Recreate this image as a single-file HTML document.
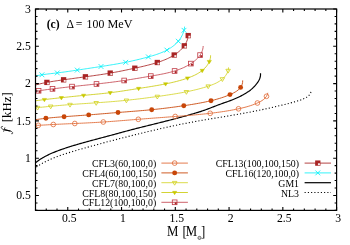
<!DOCTYPE html>
<html><head><meta charset="utf-8"><title>f-M chart</title>
<style>html,body{margin:0;padding:0;background:#fff;}body{width:350px;height:245px;overflow:hidden;font-family:"Liberation Serif",serif;}</style></head>
<body>
<svg width="350" height="245" viewBox="0 0 350 245" style="display:block;will-change:transform;font-family:'Liberation Serif',serif">
<defs><filter id="gs" x="-5%" y="-5%" width="110%" height="110%" color-interpolation-filters="sRGB"><feColorMatrix type="saturate" values="0"/></filter></defs>
<rect x="0" y="0" width="350" height="245" fill="#fff"/>
<g fill="none" stroke-linecap="butt" stroke-linejoin="round">
<path d="M35.50 167.60 L36.70 166.77 L37.91 165.97 L39.14 165.19 L40.38 164.44 L41.63 163.71 L42.89 163.01 L44.17 162.33 L45.46 161.67 L46.76 161.03 L48.07 160.41 L49.39 159.81 L50.72 159.22 L52.05 158.65 L53.39 158.10 L54.74 157.56 L56.09 157.04 L57.45 156.53 L58.81 156.03 L60.18 155.54 L61.55 155.06 L62.92 154.60 L64.30 154.14 L65.68 153.68 L67.06 153.24 L68.44 152.81 L69.82 152.38 L71.21 151.95 L72.60 151.53 L73.99 151.12 L75.38 150.71 L76.77 150.30 L78.16 149.90 L79.55 149.50 L80.95 149.10 L82.34 148.70 L83.73 148.31 L85.13 147.91 L86.52 147.52 L87.92 147.13 L89.32 146.74 L90.71 146.35 L92.11 145.97 L93.51 145.58 L94.90 145.20 L96.30 144.82 L97.70 144.44 L99.10 144.06 L100.50 143.68 L101.90 143.31 L103.30 142.93 L104.70 142.56 L106.10 142.19 L107.50 141.82 L108.91 141.46 L110.31 141.09 L111.71 140.72 L113.11 140.36 L114.52 140.00 L115.92 139.64 L117.32 139.27 L118.73 138.91 L120.13 138.55 L121.54 138.19 L122.94 137.83 L124.34 137.47 L125.75 137.12 L127.15 136.76 L128.56 136.40 L129.96 136.05 L131.37 135.70 L132.78 135.34 L134.18 134.99 L135.59 134.64 L136.99 134.29 L138.40 133.94 L139.81 133.59 L141.22 133.25 L142.62 132.90 L144.03 132.56 L145.44 132.22 L146.85 131.88 L148.26 131.54 L149.67 131.20 L151.08 130.87 L152.49 130.53 L153.90 130.20 L155.31 129.87 L156.72 129.54 L158.13 129.21 L159.55 128.89 L160.96 128.57 L162.37 128.25 L163.79 127.93 L165.20 127.61 L166.62 127.30 L168.03 126.99 L169.45 126.68 L170.87 126.37 L172.28 126.07 L173.70 125.77 L175.12 125.47 L176.54 125.17 L177.96 124.88 L179.38 124.58 L180.80 124.30 L182.22 124.01 L183.64 123.73 L185.06 123.45 L186.49 123.17 L187.91 122.90 L189.33 122.63 L190.76 122.36 L192.18 122.09 L193.61 121.83 L195.04 121.57 L196.46 121.32 L197.89 121.06 L199.32 120.81 L200.75 120.56 L202.18 120.31 L203.60 120.07 L205.03 119.83 L206.46 119.58 L207.89 119.34 L209.32 119.10 L210.75 118.86 L212.18 118.63 L213.61 118.39 L215.04 118.15 L216.48 117.92 L217.91 117.68 L219.34 117.44 L220.77 117.21 L222.20 116.97 L223.63 116.73 L225.06 116.50 L226.49 116.26 L227.92 116.02 L229.35 115.78 L230.78 115.54 L232.21 115.30 L233.63 115.06 L235.06 114.81 L236.49 114.56 L237.92 114.31 L239.34 114.06 L240.77 113.81 L242.20 113.55 L243.62 113.29 L245.04 113.03 L246.47 112.77 L247.89 112.50 L249.31 112.23 L250.74 111.96 L252.16 111.68 L253.58 111.40 L255.00 111.12 L256.41 110.83 L257.83 110.54 L259.25 110.24 L260.67 109.95 L262.09 109.65 L263.50 109.34 L264.92 109.04 L266.33 108.73 L267.75 108.42 L269.17 108.10 L270.58 107.78 L272.00 107.46 L273.41 107.14 L274.83 106.81 L276.25 106.48 L277.66 106.15 L279.08 105.81 L280.49 105.47 L281.91 105.13 L283.32 104.78 L284.73 104.43 L286.14 104.08 L287.54 103.72 L288.95 103.36 L290.35 103.00 L291.74 102.63 L293.13 102.25 L294.52 101.87 L295.91 101.49 L297.28 101.09 L298.66 100.68 L300.02 100.23 L301.38 99.75 L302.73 99.20 L304.07 98.60 L305.40 97.91 L306.71 97.14 L307.96 96.26 L309.08 95.27 L310.00 94.16 L310.66 92.91 L311.00 91.50" stroke="#000" stroke-width="1.1" stroke-dasharray="1.1 2.15" stroke-dashoffset="-1.1"/>
<path d="M35.50 162.70 L36.49 161.93 L37.50 161.18 L38.52 160.46 L39.55 159.76 L40.60 159.08 L41.66 158.42 L42.73 157.78 L43.81 157.16 L44.90 156.56 L46.00 155.98 L47.11 155.42 L48.23 154.87 L49.35 154.33 L50.49 153.81 L51.63 153.31 L52.77 152.82 L53.93 152.34 L55.08 151.87 L56.25 151.41 L57.41 150.96 L58.58 150.53 L59.76 150.10 L60.93 149.67 L62.11 149.26 L63.29 148.85 L64.47 148.45 L65.65 148.05 L66.84 147.66 L68.03 147.28 L69.21 146.90 L70.40 146.53 L71.59 146.16 L72.79 145.79 L73.98 145.43 L75.17 145.07 L76.37 144.72 L77.57 144.37 L78.76 144.03 L79.96 143.68 L81.16 143.34 L82.36 143.00 L83.56 142.66 L84.76 142.33 L85.96 142.00 L87.16 141.67 L88.37 141.34 L89.57 141.01 L90.77 140.68 L91.98 140.36 L93.18 140.03 L94.39 139.71 L95.59 139.39 L96.80 139.06 L98.00 138.74 L99.21 138.42 L100.41 138.10 L101.62 137.78 L102.82 137.46 L104.03 137.14 L105.23 136.83 L106.44 136.51 L107.64 136.19 L108.85 135.86 L110.05 135.54 L111.26 135.22 L112.46 134.90 L113.66 134.58 L114.87 134.25 L116.07 133.92 L117.27 133.60 L118.48 133.27 L119.68 132.94 L120.88 132.61 L122.08 132.28 L123.29 131.95 L124.49 131.62 L125.69 131.29 L126.90 130.97 L128.10 130.64 L129.31 130.32 L130.51 130.00 L131.72 129.69 L132.92 129.37 L134.13 129.06 L135.34 128.75 L136.55 128.44 L137.75 128.13 L138.96 127.83 L140.17 127.52 L141.38 127.22 L142.59 126.91 L143.80 126.61 L145.01 126.31 L146.22 126.01 L147.43 125.71 L148.64 125.41 L149.85 125.11 L151.06 124.81 L152.27 124.51 L153.48 124.21 L154.69 123.91 L155.90 123.62 L157.11 123.32 L158.32 123.02 L159.53 122.72 L160.74 122.41 L161.95 122.11 L163.16 121.81 L164.37 121.51 L165.58 121.20 L166.79 120.90 L168.00 120.59 L169.21 120.28 L170.41 119.97 L171.62 119.66 L172.83 119.35 L174.04 119.04 L175.24 118.72 L176.45 118.40 L177.65 118.09 L178.86 117.77 L180.06 117.44 L181.27 117.12 L182.47 116.79 L183.67 116.47 L184.88 116.13 L186.08 115.80 L187.28 115.47 L188.48 115.13 L189.68 114.79 L190.88 114.45 L192.08 114.10 L193.28 113.75 L194.47 113.40 L195.67 113.04 L196.86 112.68 L198.05 112.31 L199.24 111.94 L200.43 111.56 L201.61 111.17 L202.80 110.77 L203.97 110.36 L205.15 109.95 L206.32 109.52 L207.49 109.09 L208.66 108.65 L209.82 108.20 L210.98 107.75 L212.15 107.30 L213.31 106.85 L214.47 106.40 L215.63 105.95 L216.80 105.50 L217.96 105.06 L219.13 104.62 L220.30 104.19 L221.47 103.77 L222.65 103.35 L223.83 102.94 L225.00 102.53 L226.18 102.12 L227.36 101.70 L228.53 101.28 L229.70 100.85 L230.87 100.42 L232.04 99.97 L233.20 99.51 L234.35 99.04 L235.50 98.55 L236.64 98.05 L237.77 97.53 L238.89 96.99 L240.01 96.44 L241.12 95.87 L242.22 95.28 L243.31 94.68 L244.40 94.06 L245.48 93.42 L246.54 92.77 L247.59 92.09 L248.63 91.39 L249.64 90.66 L250.63 89.90 L251.58 89.11 L252.51 88.28 L253.41 87.42 L254.28 86.52 L255.13 85.60 L255.94 84.65 L256.73 83.67 L257.48 82.66 L258.18 81.62 L258.81 80.55 L259.37 79.45 L259.83 78.30 L260.19 77.12 L260.42 75.89 L260.53 74.62 L260.50 73.30" stroke="#000" stroke-width="1.2"/>
<path d="M35.50 125.40 L37.50 125.33 L39.51 125.25 L41.51 125.15 L43.51 125.05 L45.51 124.94 L47.52 124.83 L49.52 124.71 L51.52 124.60 L53.52 124.49 L55.52 124.38 L57.53 124.28 L59.53 124.18 L61.53 124.09 L63.54 123.99 L65.54 123.90 L67.54 123.82 L69.54 123.73 L71.55 123.64 L73.55 123.55 L75.55 123.47 L77.56 123.38 L79.56 123.29 L81.56 123.19 L83.57 123.10 L85.57 123.00 L87.57 122.90 L89.57 122.80 L91.58 122.69 L93.58 122.58 L95.58 122.47 L97.58 122.36 L99.58 122.24 L101.58 122.11 L103.59 121.98 L105.59 121.85 L107.59 121.71 L109.59 121.57 L111.59 121.42 L113.58 121.27 L115.58 121.12 L117.58 120.96 L119.58 120.81 L121.58 120.65 L123.58 120.49 L125.58 120.33 L127.58 120.17 L129.57 120.00 L131.57 119.84 L133.57 119.68 L135.57 119.52 L137.57 119.36 L139.57 119.20 L141.57 119.04 L143.57 118.89 L145.57 118.73 L147.57 118.58 L149.57 118.43 L151.57 118.28 L153.57 118.12 L155.57 117.97 L157.57 117.82 L159.57 117.68 L161.57 117.53 L163.57 117.38 L165.56 117.23 L167.56 117.08 L169.56 116.93 L171.56 116.78 L173.56 116.62 L175.56 116.47 L177.55 116.32 L179.55 116.16 L181.55 116.01 L183.54 115.85 L185.54 115.69 L187.54 115.52 L189.53 115.36 L191.53 115.18 L193.53 115.01 L195.52 114.82 L197.52 114.64 L199.51 114.45 L201.51 114.25 L203.51 114.04 L205.51 113.83 L207.50 113.61 L209.50 113.38 L211.50 113.15 L213.50 112.90 L215.49 112.65 L217.49 112.38 L219.48 112.11 L221.48 111.82 L223.47 111.53 L225.45 111.22 L227.43 110.89 L229.41 110.56 L231.38 110.21 L233.34 109.84 L235.30 109.46 L237.25 109.06 L239.19 108.65 L241.13 108.22 L243.06 107.76 L244.98 107.28 L246.90 106.75 L248.81 106.19 L250.72 105.58 L252.63 104.92 L254.54 104.20 L256.44 103.42 L258.35 102.57 L260.23 101.63 L262.02 100.58 L263.68 99.40 L265.14 98.06 L266.36 96.53 L267.26 94.78 L267.80 92.80" stroke="#e06a36" stroke-width="0.88"/>
<path d="M35.50 119.70 L37.30 119.42 L39.10 119.16 L40.91 118.91 L42.71 118.68 L44.52 118.46 L46.33 118.25 L48.14 118.06 L49.95 117.88 L51.77 117.70 L53.58 117.54 L55.39 117.38 L57.21 117.23 L59.03 117.08 L60.84 116.94 L62.66 116.81 L64.47 116.67 L66.29 116.54 L68.11 116.41 L69.92 116.28 L71.74 116.15 L73.56 116.01 L75.37 115.88 L77.19 115.75 L79.01 115.62 L80.82 115.49 L82.64 115.36 L84.46 115.22 L86.27 115.09 L88.09 114.95 L89.90 114.81 L91.72 114.66 L93.53 114.52 L95.35 114.37 L97.16 114.22 L98.98 114.07 L100.79 113.92 L102.61 113.77 L104.42 113.62 L106.24 113.47 L108.05 113.32 L109.87 113.17 L111.68 113.01 L113.50 112.87 L115.31 112.72 L117.13 112.57 L118.95 112.42 L120.76 112.28 L122.58 112.14 L124.39 112.00 L126.21 111.86 L128.03 111.72 L129.84 111.57 L131.66 111.43 L133.48 111.29 L135.29 111.14 L137.11 111.00 L138.92 110.85 L140.74 110.70 L142.55 110.54 L144.37 110.38 L146.18 110.22 L147.99 110.06 L149.80 109.88 L151.61 109.71 L153.42 109.53 L155.23 109.34 L157.04 109.15 L158.85 108.95 L160.66 108.75 L162.47 108.54 L164.27 108.32 L166.08 108.10 L167.89 107.88 L169.69 107.65 L171.50 107.42 L173.30 107.18 L175.11 106.94 L176.92 106.69 L178.72 106.43 L180.53 106.18 L182.34 105.92 L184.15 105.65 L185.95 105.38 L187.76 105.10 L189.57 104.82 L191.38 104.53 L193.18 104.23 L194.98 103.93 L196.78 103.61 L198.58 103.29 L200.37 102.96 L202.16 102.61 L203.94 102.26 L205.72 101.89 L207.49 101.51 L209.25 101.11 L211.01 100.70 L212.76 100.27 L214.50 99.83 L216.24 99.36 L217.97 98.87 L219.70 98.36 L221.43 97.81 L223.16 97.24 L224.89 96.63 L226.62 95.98 L228.35 95.29 L230.08 94.56 L231.82 93.79 L233.53 92.95 L235.18 92.04 L236.75 91.05 L238.19 89.95 L239.49 88.73 L240.61 87.38 L241.52 85.89 L242.20 84.24 L242.60 82.41 L242.70 80.40" stroke="#c84608" stroke-width="0.88"/>
<path d="M35.50 107.80 L37.20 107.64 L38.91 107.47 L40.61 107.31 L42.31 107.14 L44.01 106.97 L45.72 106.79 L47.42 106.62 L49.12 106.46 L50.83 106.29 L52.53 106.12 L54.23 105.96 L55.94 105.80 L57.64 105.64 L59.34 105.49 L61.05 105.34 L62.75 105.19 L64.46 105.05 L66.16 104.90 L67.87 104.77 L69.58 104.63 L71.28 104.50 L72.99 104.37 L74.69 104.25 L76.40 104.13 L78.11 104.01 L79.82 103.89 L81.52 103.78 L83.23 103.66 L84.94 103.55 L86.65 103.44 L88.35 103.32 L90.06 103.21 L91.77 103.10 L93.48 102.98 L95.18 102.87 L96.89 102.75 L98.60 102.63 L100.30 102.51 L102.01 102.39 L103.72 102.27 L105.43 102.14 L107.13 102.01 L108.84 101.88 L110.54 101.74 L112.25 101.60 L113.96 101.46 L115.66 101.31 L117.36 101.16 L119.07 101.01 L120.77 100.85 L122.48 100.69 L124.18 100.52 L125.88 100.35 L127.58 100.18 L129.28 100.00 L130.98 99.81 L132.68 99.62 L134.38 99.43 L136.08 99.23 L137.78 99.03 L139.48 98.83 L141.18 98.62 L142.88 98.41 L144.58 98.19 L146.27 97.98 L147.97 97.76 L149.67 97.53 L151.36 97.31 L153.06 97.08 L154.76 96.85 L156.45 96.62 L158.15 96.38 L159.85 96.15 L161.54 95.91 L163.24 95.67 L164.93 95.42 L166.63 95.17 L168.32 94.92 L170.01 94.66 L171.71 94.40 L173.40 94.13 L175.09 93.85 L176.77 93.57 L178.46 93.28 L180.14 92.98 L181.83 92.68 L183.51 92.36 L185.18 92.04 L186.86 91.71 L188.53 91.36 L190.20 91.01 L191.87 90.64 L193.54 90.26 L195.20 89.87 L196.86 89.46 L198.52 89.04 L200.17 88.60 L201.82 88.15 L203.47 87.67 L205.12 87.18 L206.76 86.67 L208.40 86.13 L210.03 85.58 L211.66 84.99 L213.26 84.36 L214.85 83.68 L216.40 82.94 L217.91 82.14 L219.38 81.25 L220.80 80.28 L222.16 79.21 L223.45 78.03 L224.66 76.76 L225.75 75.38 L226.69 73.93 L227.47 72.39 L228.05 70.79 L228.40 69.12 L228.50 67.40" stroke="#d2d21e" stroke-width="0.8"/>
<path d="M35.50 100.80 L37.07 100.57 L38.63 100.35 L40.20 100.14 L41.77 99.93 L43.34 99.73 L44.91 99.54 L46.48 99.35 L48.05 99.16 L49.62 98.98 L51.19 98.80 L52.77 98.63 L54.34 98.46 L55.91 98.29 L57.48 98.12 L59.06 97.95 L60.63 97.78 L62.20 97.61 L63.78 97.45 L65.35 97.28 L66.92 97.11 L68.50 96.95 L70.07 96.78 L71.64 96.61 L73.22 96.45 L74.79 96.29 L76.36 96.12 L77.94 95.96 L79.51 95.80 L81.09 95.65 L82.66 95.49 L84.23 95.34 L85.81 95.19 L87.38 95.04 L88.96 94.89 L90.54 94.74 L92.11 94.59 L93.69 94.44 L95.26 94.29 L96.84 94.14 L98.41 93.99 L99.99 93.83 L101.56 93.67 L103.13 93.50 L104.71 93.33 L106.28 93.16 L107.85 92.98 L109.42 92.79 L110.99 92.60 L112.56 92.40 L114.13 92.20 L115.69 91.99 L117.26 91.77 L118.83 91.55 L120.39 91.32 L121.96 91.09 L123.52 90.86 L125.09 90.62 L126.65 90.38 L128.21 90.14 L129.78 89.89 L131.34 89.65 L132.90 89.40 L134.47 89.15 L136.03 88.91 L137.59 88.66 L139.16 88.41 L140.72 88.17 L142.28 87.92 L143.85 87.67 L145.41 87.43 L146.97 87.18 L148.54 86.93 L150.10 86.68 L151.66 86.42 L153.22 86.16 L154.78 85.90 L156.34 85.63 L157.90 85.35 L159.45 85.07 L161.01 84.79 L162.56 84.50 L164.12 84.19 L165.67 83.89 L167.22 83.57 L168.76 83.24 L170.31 82.91 L171.85 82.56 L173.39 82.20 L174.93 81.82 L176.46 81.44 L177.99 81.03 L179.52 80.61 L181.04 80.18 L182.56 79.72 L184.07 79.25 L185.58 78.76 L187.08 78.25 L188.58 77.71 L190.07 77.15 L191.55 76.56 L193.01 75.94 L194.46 75.28 L195.88 74.57 L197.27 73.82 L198.64 73.01 L199.97 72.15 L201.27 71.22 L202.53 70.23 L203.74 69.17 L204.89 68.05 L205.97 66.86 L206.97 65.61 L207.87 64.30 L208.67 62.93 L209.34 61.50 L209.88 60.03 L210.28 58.50 L210.53 56.92 L210.60 55.30" stroke="#c8c800" stroke-width="0.8"/>
<path d="M35.50 91.30 L37.00 91.05 L38.50 90.82 L40.00 90.59 L41.50 90.36 L43.00 90.15 L44.51 89.94 L46.01 89.74 L47.52 89.54 L49.02 89.34 L50.53 89.15 L52.04 88.96 L53.54 88.77 L55.05 88.58 L56.56 88.40 L58.07 88.21 L59.57 88.03 L61.08 87.85 L62.59 87.67 L64.10 87.50 L65.61 87.32 L67.12 87.15 L68.62 86.98 L70.13 86.81 L71.64 86.64 L73.15 86.47 L74.66 86.31 L76.17 86.15 L77.68 85.99 L79.19 85.83 L80.70 85.67 L82.21 85.51 L83.72 85.35 L85.23 85.20 L86.74 85.04 L88.25 84.88 L89.76 84.72 L91.27 84.56 L92.78 84.40 L94.29 84.24 L95.80 84.08 L97.31 83.91 L98.82 83.74 L100.33 83.57 L101.84 83.40 L103.35 83.23 L104.86 83.05 L106.37 82.87 L107.88 82.69 L109.38 82.51 L110.89 82.32 L112.40 82.13 L113.90 81.93 L115.41 81.74 L116.91 81.53 L118.42 81.33 L119.92 81.12 L121.42 80.91 L122.93 80.69 L124.43 80.47 L125.93 80.24 L127.43 80.01 L128.93 79.77 L130.43 79.54 L131.92 79.29 L133.42 79.05 L134.92 78.80 L136.42 78.55 L137.91 78.30 L139.41 78.05 L140.91 77.80 L142.40 77.54 L143.90 77.28 L145.40 77.03 L146.90 76.77 L148.40 76.51 L149.90 76.25 L151.40 76.00 L152.90 75.74 L154.40 75.48 L155.90 75.22 L157.40 74.96 L158.89 74.69 L160.39 74.41 L161.88 74.12 L163.37 73.82 L164.86 73.51 L166.34 73.18 L167.82 72.84 L169.30 72.48 L170.76 72.10 L172.23 71.70 L173.68 71.28 L175.13 70.83 L176.57 70.36 L178.01 69.86 L179.43 69.34 L180.84 68.78 L182.25 68.20 L183.63 67.58 L185.01 66.92 L186.37 66.24 L187.72 65.51 L189.04 64.75 L190.35 63.95 L191.65 63.11 L192.91 62.22 L194.15 61.29 L195.34 60.32 L196.48 59.30 L197.57 58.22 L198.58 57.10 L199.52 55.92 L200.37 54.69 L201.13 53.39 L201.79 52.04 L202.33 50.63 L202.75 49.15 L203.04 47.61 L203.20 46.00" stroke="#c03a44" stroke-width="0.8"/>
<path d="M35.50 85.00 L36.86 84.63 L38.22 84.28 L39.58 83.95 L40.95 83.63 L42.32 83.33 L43.69 83.03 L45.07 82.75 L46.45 82.49 L47.82 82.23 L49.21 81.98 L50.59 81.74 L51.97 81.51 L53.36 81.29 L54.75 81.08 L56.13 80.87 L57.52 80.66 L58.91 80.46 L60.30 80.26 L61.69 80.07 L63.08 79.87 L64.48 79.68 L65.87 79.49 L67.26 79.29 L68.65 79.10 L70.04 78.91 L71.43 78.72 L72.82 78.53 L74.21 78.34 L75.60 78.14 L76.99 77.95 L78.38 77.76 L79.77 77.57 L81.16 77.38 L82.55 77.19 L83.94 77.00 L85.33 76.81 L86.72 76.62 L88.12 76.43 L89.51 76.23 L90.90 76.04 L92.29 75.85 L93.68 75.65 L95.07 75.45 L96.46 75.25 L97.85 75.05 L99.24 74.85 L100.62 74.64 L102.01 74.43 L103.40 74.21 L104.79 74.00 L106.17 73.77 L107.56 73.55 L108.94 73.32 L110.32 73.08 L111.71 72.84 L113.09 72.59 L114.47 72.34 L115.85 72.08 L117.23 71.82 L118.60 71.56 L119.98 71.29 L121.36 71.02 L122.74 70.74 L124.11 70.46 L125.49 70.18 L126.86 69.89 L128.24 69.60 L129.61 69.31 L130.98 69.02 L132.36 68.73 L133.73 68.43 L135.10 68.13 L136.47 67.84 L137.85 67.53 L139.22 67.23 L140.59 66.92 L141.96 66.61 L143.33 66.29 L144.69 65.96 L146.06 65.63 L147.42 65.29 L148.78 64.95 L150.14 64.59 L151.49 64.22 L152.84 63.84 L154.19 63.45 L155.54 63.05 L156.88 62.63 L158.22 62.20 L159.55 61.76 L160.88 61.30 L162.20 60.81 L163.51 60.31 L164.81 59.79 L166.11 59.24 L167.39 58.67 L168.66 58.07 L169.92 57.44 L171.17 56.78 L172.40 56.09 L173.61 55.37 L174.81 54.61 L175.99 53.81 L177.14 52.98 L178.27 52.10 L179.36 51.20 L180.41 50.25 L181.41 49.26 L182.37 48.23 L183.28 47.16 L184.12 46.05 L184.90 44.90 L185.62 43.70 L186.26 42.46 L186.82 41.18 L187.30 39.85 L187.70 38.48 L188.00 37.06 L188.20 35.60" stroke="#a82424" stroke-width="0.85"/>
<path d="M35.50 76.00 L36.86 75.71 L38.21 75.44 L39.58 75.19 L40.94 74.95 L42.31 74.74 L43.68 74.53 L45.05 74.34 L46.42 74.16 L47.80 73.99 L49.17 73.83 L50.55 73.67 L51.92 73.51 L53.30 73.36 L54.68 73.20 L56.05 73.05 L57.43 72.88 L58.80 72.72 L60.18 72.55 L61.55 72.37 L62.93 72.19 L64.30 72.00 L65.67 71.81 L67.04 71.62 L68.41 71.42 L69.78 71.22 L71.15 71.02 L72.52 70.82 L73.89 70.61 L75.26 70.41 L76.63 70.20 L78.00 69.99 L79.37 69.79 L80.74 69.58 L82.11 69.37 L83.48 69.17 L84.85 68.96 L86.22 68.75 L87.59 68.55 L88.95 68.34 L90.32 68.13 L91.69 67.92 L93.06 67.72 L94.43 67.51 L95.80 67.30 L97.17 67.09 L98.54 66.88 L99.91 66.67 L101.28 66.46 L102.65 66.25 L104.02 66.03 L105.39 65.82 L106.75 65.61 L108.12 65.39 L109.49 65.17 L110.86 64.95 L112.23 64.73 L113.59 64.50 L114.96 64.27 L116.32 64.03 L117.69 63.80 L119.05 63.55 L120.41 63.31 L121.77 63.06 L123.13 62.80 L124.49 62.54 L125.85 62.27 L127.21 62.00 L128.56 61.72 L129.92 61.43 L131.27 61.14 L132.62 60.84 L133.97 60.53 L135.32 60.22 L136.67 59.91 L138.01 59.59 L139.36 59.26 L140.70 58.93 L142.05 58.59 L143.39 58.24 L144.73 57.89 L146.07 57.53 L147.41 57.17 L148.75 56.80 L150.09 56.43 L151.43 56.05 L152.76 55.65 L154.09 55.25 L155.41 54.83 L156.73 54.39 L158.04 53.94 L159.35 53.46 L160.64 52.97 L161.92 52.45 L163.20 51.90 L164.46 51.32 L165.70 50.72 L166.94 50.08 L168.16 49.41 L169.36 48.70 L170.53 47.95 L171.69 47.17 L172.81 46.35 L173.91 45.49 L174.97 44.59 L176.00 43.65 L176.98 42.66 L177.93 41.64 L178.82 40.56 L179.67 39.45 L180.46 38.29 L181.20 37.10 L181.87 35.88 L182.49 34.62 L183.03 33.34 L183.50 32.03 L183.90 30.69 L184.22 29.34 L184.45 27.98 L184.60 26.60" stroke="#00f0f8" stroke-width="0.8"/>
</g>
<g><circle cx="38.30" cy="125.30" r="2.35" fill="none" stroke="#e06a36" stroke-width="0.8"/><circle cx="53.30" cy="124.50" r="2.35" fill="none" stroke="#e06a36" stroke-width="0.8"/><circle cx="74.80" cy="123.50" r="2.35" fill="none" stroke="#e06a36" stroke-width="0.8"/><circle cx="103.30" cy="122.00" r="2.35" fill="none" stroke="#e06a36" stroke-width="0.8"/><circle cx="138.30" cy="119.30" r="2.35" fill="none" stroke="#e06a36" stroke-width="0.8"/><circle cx="175.20" cy="116.50" r="2.35" fill="none" stroke="#e06a36" stroke-width="0.8"/><circle cx="210.20" cy="113.30" r="2.35" fill="none" stroke="#e06a36" stroke-width="0.8"/><circle cx="238.50" cy="108.80" r="2.35" fill="none" stroke="#e06a36" stroke-width="0.8"/><circle cx="257.40" cy="103.00" r="2.35" fill="none" stroke="#e06a36" stroke-width="0.8"/><circle cx="266.50" cy="96.30" r="2.35" fill="none" stroke="#e06a36" stroke-width="0.8"/></g>
<g><circle cx="45.90" cy="118.30" r="2.45" fill="#c84608"/><circle cx="64.10" cy="116.70" r="2.45" fill="#c84608"/><circle cx="88.70" cy="114.90" r="2.45" fill="#c84608"/><circle cx="118.00" cy="112.50" r="2.45" fill="#c84608"/><circle cx="151.70" cy="109.70" r="2.45" fill="#c84608"/><circle cx="183.80" cy="105.70" r="2.45" fill="#c84608"/><circle cx="211.00" cy="100.70" r="2.45" fill="#c84608"/><circle cx="230.00" cy="94.60" r="2.45" fill="#c84608"/><circle cx="240.60" cy="87.40" r="2.45" fill="#c84608"/></g>
<g><path d="M35.35 106.30L39.85 106.30L37.60 110.10Z" fill="none" stroke="#d2d21e" stroke-width="0.8"/><path d="M48.45 105.00L52.95 105.00L50.70 108.80Z" fill="none" stroke="#d2d21e" stroke-width="0.8"/><path d="M67.75 103.30L72.25 103.30L70.00 107.10Z" fill="none" stroke="#d2d21e" stroke-width="0.8"/><path d="M93.95 101.50L98.45 101.50L96.20 105.30Z" fill="none" stroke="#d2d21e" stroke-width="0.8"/><path d="M124.15 99.00L128.65 99.00L126.40 102.80Z" fill="none" stroke="#d2d21e" stroke-width="0.8"/><path d="M155.05 95.20L159.55 95.20L157.30 99.00Z" fill="none" stroke="#d2d21e" stroke-width="0.8"/><path d="M184.15 90.50L188.65 90.50L186.40 94.30Z" fill="none" stroke="#d2d21e" stroke-width="0.8"/><path d="M205.95 84.90L210.45 84.90L208.20 88.70Z" fill="none" stroke="#d2d21e" stroke-width="0.8"/><path d="M220.15 77.70L224.65 77.70L222.40 81.50Z" fill="none" stroke="#d2d21e" stroke-width="0.8"/><path d="M225.85 69.30L230.35 69.30L228.10 73.10Z" fill="none" stroke="#d2d21e" stroke-width="0.8"/></g>
<g><path d="M42.30 98.40L46.50 98.40L44.40 101.80Z" fill="#c8c800" stroke="#c8c800" stroke-width="0.5"/><path d="M59.30 96.50L63.50 96.50L61.40 99.90Z" fill="#c8c800" stroke="#c8c800" stroke-width="0.5"/><path d="M81.50 94.20L85.70 94.20L83.60 97.60Z" fill="#c8c800" stroke="#c8c800" stroke-width="0.5"/><path d="M108.10 91.50L112.30 91.50L110.20 94.90Z" fill="#c8c800" stroke="#c8c800" stroke-width="0.5"/><path d="M136.50 87.30L140.70 87.30L138.60 90.70Z" fill="#c8c800" stroke="#c8c800" stroke-width="0.5"/><path d="M163.50 82.70L167.70 82.70L165.60 86.10Z" fill="#c8c800" stroke="#c8c800" stroke-width="0.5"/><path d="M185.40 76.90L189.60 76.90L187.50 80.30Z" fill="#c8c800" stroke="#c8c800" stroke-width="0.5"/><path d="M200.10 69.30L204.30 69.30L202.20 72.70Z" fill="#c8c800" stroke="#c8c800" stroke-width="0.5"/><path d="M207.20 60.40L211.40 60.40L209.30 63.80Z" fill="#c8c800" stroke="#c8c800" stroke-width="0.5"/></g>
<g><rect x="36.25" y="88.45" width="4.70" height="4.70" fill="none" stroke="#c03a44" stroke-width="0.8"/><rect x="38.70" y="90.90" width="1.95" height="1.95" fill="#a82424"/><rect x="50.15" y="86.55" width="4.70" height="4.70" fill="none" stroke="#c03a44" stroke-width="0.8"/><rect x="52.60" y="89.00" width="1.95" height="1.95" fill="#a82424"/><rect x="69.65" y="84.25" width="4.70" height="4.70" fill="none" stroke="#c03a44" stroke-width="0.8"/><rect x="72.10" y="86.70" width="1.95" height="1.95" fill="#a82424"/><rect x="94.15" y="81.65" width="4.70" height="4.70" fill="none" stroke="#c03a44" stroke-width="0.8"/><rect x="96.60" y="84.10" width="1.95" height="1.95" fill="#a82424"/><rect x="121.85" y="78.15" width="4.70" height="4.70" fill="none" stroke="#c03a44" stroke-width="0.8"/><rect x="124.30" y="80.60" width="1.95" height="1.95" fill="#a82424"/><rect x="148.45" y="73.75" width="4.70" height="4.70" fill="none" stroke="#c03a44" stroke-width="0.8"/><rect x="150.90" y="76.20" width="1.95" height="1.95" fill="#a82424"/><rect x="172.25" y="68.65" width="4.70" height="4.70" fill="none" stroke="#c03a44" stroke-width="0.8"/><rect x="174.70" y="71.10" width="1.95" height="1.95" fill="#a82424"/><rect x="188.55" y="61.25" width="4.70" height="4.70" fill="none" stroke="#c03a44" stroke-width="0.8"/><rect x="191.00" y="63.70" width="1.95" height="1.95" fill="#a82424"/><rect x="197.75" y="52.75" width="4.70" height="4.70" fill="none" stroke="#c03a44" stroke-width="0.8"/><rect x="200.20" y="55.20" width="1.95" height="1.95" fill="#a82424"/></g>
<g><rect x="44.25" y="79.75" width="5.30" height="5.30" fill="#a82424"/><rect x="47.05" y="82.55" width="2.0" height="1.9" fill="#fff" opacity="0.9"/><rect x="60.95" y="77.15" width="5.30" height="5.30" fill="#a82424"/><rect x="63.75" y="79.95" width="2.0" height="1.9" fill="#fff" opacity="0.9"/><rect x="82.75" y="74.15" width="5.30" height="5.30" fill="#a82424"/><rect x="85.55" y="76.95" width="2.0" height="1.9" fill="#fff" opacity="0.9"/><rect x="107.55" y="70.45" width="5.30" height="5.30" fill="#a82424"/><rect x="110.35" y="73.25" width="2.0" height="1.9" fill="#fff" opacity="0.9"/><rect x="132.15" y="65.55" width="5.30" height="5.30" fill="#a82424"/><rect x="134.95" y="68.35" width="2.0" height="1.9" fill="#fff" opacity="0.9"/><rect x="154.65" y="59.85" width="5.30" height="5.30" fill="#a82424"/><rect x="157.45" y="62.65" width="2.0" height="1.9" fill="#fff" opacity="0.9"/><rect x="171.55" y="52.35" width="5.30" height="5.30" fill="#a82424"/><rect x="174.35" y="55.15" width="2.0" height="1.9" fill="#fff" opacity="0.9"/><rect x="181.65" y="43.15" width="5.30" height="5.30" fill="#a82424"/><rect x="184.45" y="45.95" width="2.0" height="1.9" fill="#fff" opacity="0.9"/><rect x="185.55" y="32.95" width="5.30" height="5.30" fill="#a82424"/><rect x="188.35" y="35.75" width="2.0" height="1.9" fill="#fff" opacity="0.9"/></g>
<g><path d="M39.50 72.40L44.30 77.20M39.50 77.20L44.30 72.40" stroke="#00f0f8" stroke-width="0.85" fill="none"/><path d="M54.90 70.50L59.70 75.30M54.90 75.30L59.70 70.50" stroke="#00f0f8" stroke-width="0.85" fill="none"/><path d="M74.90 67.70L79.70 72.50M74.90 72.50L79.70 67.70" stroke="#00f0f8" stroke-width="0.85" fill="none"/><path d="M98.60 64.10L103.40 68.90M98.60 68.90L103.40 64.10" stroke="#00f0f8" stroke-width="0.85" fill="none"/><path d="M123.30 59.90L128.10 64.70M123.30 64.70L128.10 59.90" stroke="#00f0f8" stroke-width="0.85" fill="none"/><path d="M146.00 54.50L150.80 59.30M146.00 59.30L150.80 54.50" stroke="#00f0f8" stroke-width="0.85" fill="none"/><path d="M164.50 47.70L169.30 52.50M164.50 52.50L169.30 47.70" stroke="#00f0f8" stroke-width="0.85" fill="none"/><path d="M175.90 38.80L180.70 43.60M175.90 43.60L180.70 38.80" stroke="#00f0f8" stroke-width="0.85" fill="none"/><path d="M181.60 27.90L186.40 32.70M181.60 32.70L186.40 27.90" stroke="#00f0f8" stroke-width="0.85" fill="none"/></g>
<path d="M161.4 163.10L187.9 163.10" stroke="#e06a36" stroke-width="0.88" fill="none"/>
<circle cx="174.65" cy="163.10" r="2.35" fill="none" stroke="#e06a36" stroke-width="0.8"/>
<path d="M161.4 172.90L187.9 172.90" stroke="#c84608" stroke-width="0.88" fill="none"/>
<circle cx="174.65" cy="172.90" r="2.45" fill="#c84608"/>
<path d="M161.4 182.70L187.9 182.70" stroke="#d2d21e" stroke-width="0.8" fill="none"/>
<path d="M172.40 181.40L176.90 181.40L174.65 185.20Z" fill="none" stroke="#d2d21e" stroke-width="0.8"/>
<path d="M161.4 192.50L187.9 192.50" stroke="#c8c800" stroke-width="0.8" fill="none"/>
<path d="M172.55 191.30L176.75 191.30L174.65 194.70Z" fill="#c8c800" stroke="#c8c800" stroke-width="0.5"/>
<path d="M161.4 202.30L187.9 202.30" stroke="#c03a44" stroke-width="0.8" fill="none"/>
<rect x="172.30" y="199.95" width="4.70" height="4.70" fill="none" stroke="#c03a44" stroke-width="0.8"/><rect x="174.75" y="202.40" width="1.95" height="1.95" fill="#a82424"/>
<path d="M304.6 163.10L331.0 163.10" stroke="#a82424" stroke-width="0.85" fill="none"/>
<rect x="315.15" y="160.45" width="5.30" height="5.30" fill="#a82424"/><rect x="317.95" y="163.25" width="2.0" height="1.9" fill="#fff" opacity="0.9"/>
<path d="M304.6 172.90L331.0 172.90" stroke="#00f0f8" stroke-width="0.8" fill="none"/>
<path d="M315.40 170.50L320.20 175.30M315.40 175.30L320.20 170.50" stroke="#00f0f8" stroke-width="0.85" fill="none"/>
<path d="M304.6 182.70L331.0 182.70" stroke="#000" stroke-width="1.2" fill="none"/>
<path d="M304.6 192.50L331.0 192.50" stroke="#000" stroke-width="1.1" stroke-dasharray="1.1 2.15" fill="none"/>
<rect x="35.5" y="9.0" width="301.10" height="201.40" fill="none" stroke="#000" stroke-width="1.2"/>
<path d="M35.50 210.4v-2.0M35.50 9.0v2.0M46.25 210.4v-2.0M46.25 9.0v2.0M57.01 210.4v-2.0M57.01 9.0v2.0M67.76 210.4v-3.4M67.76 9.0v3.4M78.51 210.4v-2.0M78.51 9.0v2.0M89.27 210.4v-2.0M89.27 9.0v2.0M100.02 210.4v-2.0M100.02 9.0v2.0M110.78 210.4v-2.0M110.78 9.0v2.0M121.53 210.4v-3.4M121.53 9.0v3.4M132.28 210.4v-2.0M132.28 9.0v2.0M143.04 210.4v-2.0M143.04 9.0v2.0M153.79 210.4v-2.0M153.79 9.0v2.0M164.54 210.4v-2.0M164.54 9.0v2.0M175.30 210.4v-3.4M175.30 9.0v3.4M186.05 210.4v-2.0M186.05 9.0v2.0M196.80 210.4v-2.0M196.80 9.0v2.0M207.56 210.4v-2.0M207.56 9.0v2.0M218.31 210.4v-2.0M218.31 9.0v2.0M229.06 210.4v-3.4M229.06 9.0v3.4M239.82 210.4v-2.0M239.82 9.0v2.0M250.57 210.4v-2.0M250.57 9.0v2.0M261.32 210.4v-2.0M261.32 9.0v2.0M272.08 210.4v-2.0M272.08 9.0v2.0M282.83 210.4v-3.4M282.83 9.0v3.4M293.59 210.4v-2.0M293.59 9.0v2.0M304.34 210.4v-2.0M304.34 9.0v2.0M315.09 210.4v-2.0M315.09 9.0v2.0M325.85 210.4v-2.0M325.85 9.0v2.0M336.60 210.4v-3.4M336.60 9.0v3.4M35.5 210.40h2.0M336.6 210.40h-2.0M35.5 202.94h2.0M336.6 202.94h-2.0M35.5 195.48h3.4M336.6 195.48h-3.4M35.5 188.02h2.0M336.6 188.02h-2.0M35.5 180.56h2.0M336.6 180.56h-2.0M35.5 173.10h2.0M336.6 173.10h-2.0M35.5 165.64h2.0M336.6 165.64h-2.0M35.5 158.19h3.4M336.6 158.19h-3.4M35.5 150.73h2.0M336.6 150.73h-2.0M35.5 143.27h2.0M336.6 143.27h-2.0M35.5 135.81h2.0M336.6 135.81h-2.0M35.5 128.35h2.0M336.6 128.35h-2.0M35.5 120.89h3.4M336.6 120.89h-3.4M35.5 113.43h2.0M336.6 113.43h-2.0M35.5 105.97h2.0M336.6 105.97h-2.0M35.5 98.51h2.0M336.6 98.51h-2.0M35.5 91.05h2.0M336.6 91.05h-2.0M35.5 83.59h3.4M336.6 83.59h-3.4M35.5 76.13h2.0M336.6 76.13h-2.0M35.5 68.67h2.0M336.6 68.67h-2.0M35.5 61.21h2.0M336.6 61.21h-2.0M35.5 53.76h2.0M336.6 53.76h-2.0M35.5 46.30h3.4M336.6 46.30h-3.4M35.5 38.84h2.0M336.6 38.84h-2.0M35.5 31.38h2.0M336.6 31.38h-2.0M35.5 23.92h2.0M336.6 23.92h-2.0M35.5 16.46h2.0M336.6 16.46h-2.0M35.5 9.00h3.4M336.6 9.00h-3.4" stroke="#000" stroke-width="1.1" fill="none"/>
<circle cx="199.5" cy="237.9" r="1.55" fill="none" stroke="#000" stroke-width="0.6"/><circle cx="199.5" cy="237.9" r="0.4" fill="#000"/>
<g fill="none" stroke="#000" stroke-linecap="round" stroke-linejoin="round" transform="translate(-0.1,0.3)"><path d="M2.6 126.1C1.6 125.8 1.0 126.8 1.5 127.8C2.2 128.9 3.5 129.2 4.3 129.4L10.3 130.7C11.8 131.1 12.9 131.9 12.8 132.9C12.7 133.5 12.2 133.7 11.7 133.5" stroke-width="0.7"/><path d="M5.2 129.6L10.2 130.7" stroke-width="1.15"/><path d="M4.9 127.5L3.8 131.0" stroke-width="0.75"/></g>
<g filter="url(#gs)"><text x="156.2" y="167.20" font-size="9.9" text-anchor="end" fill="#000">CFL3(60,100,0)</text><text x="156.2" y="177.00" font-size="9.9" text-anchor="end" fill="#000">CFL4(60,100,150)</text><text x="156.2" y="186.80" font-size="9.9" text-anchor="end" fill="#000">CFL7(80,100,0)</text><text x="156.2" y="196.60" font-size="9.9" text-anchor="end" fill="#000">CFL8(80,100,150)</text><text x="156.2" y="206.40" font-size="9.9" text-anchor="end" fill="#000">CFL12(100,100,0)</text><text x="299.0" y="167.20" font-size="9.8" text-anchor="end" fill="#000">CFL13(100,100,150)</text><text x="299.0" y="177.00" font-size="9.8" text-anchor="end" fill="#000">CFL16(120,100,0)</text><text x="299.0" y="186.80" font-size="9.8" text-anchor="end" fill="#000">GM1</text><text x="299.0" y="196.60" font-size="9.8" text-anchor="end" fill="#000">NL3</text><text transform="translate(69.26,222.30) scale(1,1.06)" font-size="11.7" text-anchor="middle" fill="#000" >0.5</text><text transform="translate(30.80,199.18) scale(1,1.06)" font-size="11.7" text-anchor="end" fill="#000" >0.5</text><text transform="translate(123.03,222.30) scale(1,1.06)" font-size="11.7" text-anchor="middle" fill="#000" >1</text><text transform="translate(30.80,161.89) scale(1,1.06)" font-size="11.7" text-anchor="end" fill="#000" >1</text><text transform="translate(176.80,222.30) scale(1,1.06)" font-size="11.7" text-anchor="middle" fill="#000" >1.5</text><text transform="translate(30.80,124.59) scale(1,1.06)" font-size="11.7" text-anchor="end" fill="#000" >1.5</text><text transform="translate(230.56,222.30) scale(1,1.06)" font-size="11.7" text-anchor="middle" fill="#000" >2</text><text transform="translate(30.80,87.29) scale(1,1.06)" font-size="11.7" text-anchor="end" fill="#000" >2</text><text transform="translate(284.33,222.30) scale(1,1.06)" font-size="11.7" text-anchor="middle" fill="#000" >2.5</text><text transform="translate(30.80,50.00) scale(1,1.06)" font-size="11.7" text-anchor="end" fill="#000" >2.5</text><text transform="translate(338.10,222.30) scale(1,1.06)" font-size="11.7" text-anchor="middle" fill="#000" >3</text><text transform="translate(30.80,12.70) scale(1,1.06)" font-size="11.7" text-anchor="end" fill="#000" >3</text><text transform="translate(46.70,27.60) scale(1,1.12)" font-size="11.7" text-anchor="start" fill="#000" font-weight="bold">(c)</text><text transform="translate(66.40,27.60) scale(1,1.12)" font-size="11.7" text-anchor="start" fill="#000" >&#916;</text><text transform="translate(75.80,27.60) scale(1,1.12)" font-size="11.7" text-anchor="start" fill="#000" >=</text><text transform="translate(86.60,27.60) scale(1,1.12)" font-size="11.8" text-anchor="start" fill="#000" >100</text><text transform="translate(107.50,27.60) scale(1,1.08)" font-size="12.2" text-anchor="start" fill="#000" >MeV</text><text transform="translate(166.90,236.00) scale(1,1.07)" font-size="12.8" text-anchor="start" fill="#000" >M</text><text transform="translate(182.60,236.00) scale(1,1.07)" font-size="12.8" text-anchor="start" fill="#000" >[</text><text transform="translate(185.80,236.00) scale(1,1.07)" font-size="12.8" text-anchor="start" fill="#000" >M</text><text transform="translate(201.00,236.00) scale(1,1.07)" font-size="12.8" text-anchor="start" fill="#000" >]</text><g transform="translate(10.7,0) rotate(-90)" font-size="12.8" fill="#000"><text x="-122.2" y="0">[kHz]</text></g></g>
</svg>
</body></html>
